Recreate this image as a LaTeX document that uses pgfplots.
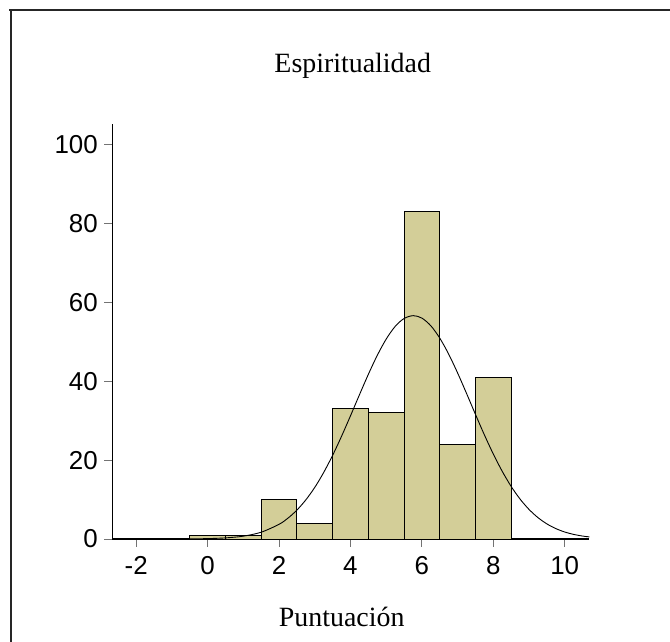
\documentclass[border=0pt]{standalone}
\usepackage{pgfplots}
\pgfplotsset{compat=1.18}
\usepackage{fontspec}
\setmainfont{Liberation Serif}
\newfontfamily\ticksans{Liberation Sans}
\definecolor{barfill}{RGB}{211,206,152}
\begin{document}
\begin{tikzpicture}
\useasboundingbox (0,0) rectangle (670bp,642bp);
\draw[line width=2bp, black!85] (9bp,632bp) -- (670bp,632bp);
\draw[line width=2bp, black!85] (11bp,0bp) -- (11bp,633bp);
\begin{axis}[
  at={(112.3bp,103bp)}, anchor=south west,
  scale only axis, width=477bp, height=415bp,
  xmin=-2.67, xmax=10.69, ymin=0, ymax=105.3,
  axis x line*=bottom, axis y line*=left,
  axis line style={line width=1.1bp, black},
  xtick={-2,0,2,4,6,8,10}, ytick={0,20,40,60,80,100},
  tick align=outside, major tick length=8bp,
  tick style={line width=1bp, black!55},
  /pgf/number format/assume math mode=true,
  ticklabel style={font=\ticksans\fontsize{26}{30}\selectfont},
  xticklabel style={yshift=-6bp},
  yticklabel style={xshift=-3bp},
  clip=false,
  xlabel={Puntuación},
  xlabel style={at={(axis description cs:0.481,-0.2113)}, anchor=base, font=\fontsize{28}{32}\selectfont},
  title={Espiritualidad},
  title style={at={(axis description cs:0.504,1.110)}, anchor=base, font=\fontsize{28}{32}\selectfont},
]
\addplot[ybar, bar width=1, bar shift=0pt, fill=barfill, draw=black, line width=1bp]
  coordinates {(0,1) (1,1) (2,10) (3,4) (4,33) (5,32) (6,83) (7,24) (8,41)};
\addplot[black, line width=0.9bp, smooth] coordinates {
(-0.5,0.03) (0,0.10) (0.5,0.28) (1,0.72) (1.5,1.72) (2,3.73) (2.25,5.29)
(2.5,7.33) (2.75,9.92) (3,13.08) (3.25,16.87) (3.5,21.21) (3.75,26.05)
(4,31.23) (4.25,36.55) (4.5,41.75) (4.75,46.57) (5,50.71) (5.25,53.91)
(5.5,55.94) (5.76,56.67) (6,56.05) (6.25,54.12) (6.5,51.00) (6.75,46.93)
(7,42.16) (7.25,36.97) (7.5,31.65) (7.75,26.45) (8,21.58) (8.25,17.19)
(8.5,13.36) (8.75,10.14) (9,7.52) (9.25,5.44) (9.5,3.84) (9.75,2.65)
(10,1.78) (10.25,1.17) (10.5,0.75) (10.69,0.53)};
\end{axis}
\end{tikzpicture}
\end{document}
